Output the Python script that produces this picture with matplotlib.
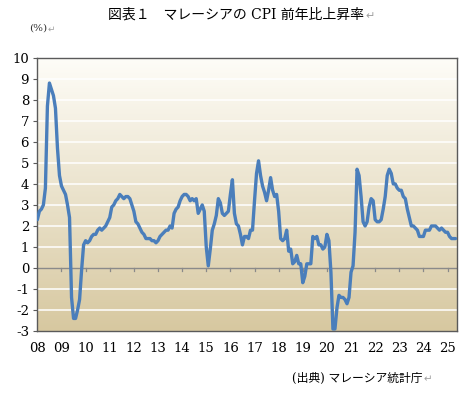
import matplotlib.pyplot as plt
import numpy as np

# Malaysia CPI year-on-year change (%), monthly, Jan 2008 - May 2025
cpi_2008 = [2.3, 2.7, 2.8, 3.0, 3.8, 7.7, 8.8, 8.5, 8.2, 7.6, 5.7, 4.4]
cpi_2009 = [3.9, 3.7, 3.5, 3.0, 2.4, -1.4, -2.4, -2.4, -2.0, -1.5, -0.1, 1.1]
cpi_2010 = [1.3, 1.2, 1.3, 1.5, 1.6, 1.6, 1.8, 1.9, 1.8, 1.9, 2.0, 2.2]
cpi_2011 = [2.4, 2.9, 3.0, 3.2, 3.3, 3.5, 3.4, 3.3, 3.4, 3.4, 3.3, 3.0]
cpi_2012 = [2.7, 2.2, 2.1, 1.9, 1.7, 1.6, 1.4, 1.4, 1.4, 1.3, 1.3, 1.2]
cpi_2013 = [1.3, 1.5, 1.6, 1.7, 1.8, 1.8, 2.0, 1.9, 2.6, 2.8, 2.9, 3.2]
cpi_2014 = [3.4, 3.5, 3.5, 3.4, 3.2, 3.3, 3.2, 3.3, 2.6, 2.8, 3.0, 2.7]
cpi_2015 = [1.0, 0.1, 0.9, 1.8, 2.1, 2.5, 3.3, 3.1, 2.6, 2.5, 2.6, 2.7]
cpi_2016 = [3.5, 4.2, 2.6, 2.1, 2.0, 1.6, 1.1, 1.5, 1.5, 1.4, 1.8, 1.8]
cpi_2017 = [3.2, 4.5, 5.1, 4.4, 3.9, 3.6, 3.2, 3.7, 4.3, 3.7, 3.4, 3.5]
cpi_2018 = [2.7, 1.4, 1.3, 1.4, 1.8, 0.8, 0.9, 0.2, 0.3, 0.6, 0.2, 0.2]
cpi_2019 = [-0.7, -0.4, 0.2, 0.2, 0.2, 1.5, 1.4, 1.5, 1.1, 1.1, 0.9, 1.0]
cpi_2020 = [1.6, 1.3, -0.2, -2.9, -2.9, -1.9, -1.3, -1.4, -1.4, -1.5, -1.7, -1.4]
cpi_2021 = [-0.2, 0.1, 1.7, 4.7, 4.4, 3.4, 2.2, 2.0, 2.2, 2.9, 3.3, 3.2]
cpi_2022 = [2.3, 2.2, 2.2, 2.3, 2.8, 3.4, 4.4, 4.7, 4.5, 4.0, 4.0, 3.8]
cpi_2023 = [3.7, 3.7, 3.4, 3.3, 2.8, 2.4, 2.0, 2.0, 1.9, 1.8, 1.5, 1.5]
cpi_2024 = [1.5, 1.8, 1.8, 1.8, 2.0, 2.0, 2.0, 1.9, 1.8, 1.9, 1.8, 1.7]
cpi_2025 = [1.7, 1.5, 1.4, 1.4, 1.4]

year_labels = ['08', '09', '10', '11', '12', '13', '14', '15', '16',
               '17', '18', '19', '20', '21', '22', '23', '24', '25']
y_ticks = list(range(-3, 11))

cpi = (cpi_2008 + cpi_2009 + cpi_2010 + cpi_2011 + cpi_2012 + cpi_2013
       + cpi_2014 + cpi_2015 + cpi_2016 + cpi_2017 + cpi_2018 + cpi_2019
       + cpi_2020 + cpi_2021 + cpi_2022 + cpi_2023 + cpi_2024 + cpi_2025)
months = np.arange(len(cpi)) / 12.0  # years since Jan 2008

serif_jp = ['DejaVu Serif', 'Noto Sans CJK JP', 'DejaVu Sans']
mark_color = '#a0a0a0'  # the little Word return marks

fig = plt.figure(figsize=(4.67, 3.96), dpi=100)
ax = fig.add_axes([0.080, 0.164, 0.899, 0.690])

x_max = 17.4
ax.set_xlim(0, x_max)
ax.set_ylim(-3, 10)

# beige gradient background (light at top, tan at bottom)
top = np.array([254, 253, 248]) / 255
bottom = np.array([215, 200, 160]) / 255
t = np.linspace(0, 1, 256)[:, None]
grad = (top * (1 - t) + bottom * t).reshape(256, 1, 3)
ax.imshow(grad, extent=[0, x_max, -3, 10], aspect='auto', zorder=0)

# white gridlines
for v in y_ticks:
    if v not in (-3, 0, 10):
        ax.axhline(v, color='white', linewidth=1.1, zorder=1)

# zero axis line with year ticks pointing down
ax.axhline(0, color='#8a8a8a', linewidth=1.0, zorder=2)
for i in range(1, len(year_labels)):
    ax.plot([i, i], [0, -0.14], color='#8a8a8a', linewidth=0.9, zorder=2)

ax.plot(months, cpi, color='#4A7EBB', linewidth=2.4, solid_joinstyle='round',
        solid_capstyle='round', zorder=3)

for s in ax.spines.values():
    s.set_color('#5a5a5a')
    s.set_linewidth(1.0)

ax.set_yticks(y_ticks)
ax.set_yticklabels([str(v) for v in y_ticks], family='DejaVu Serif', fontsize=9.5)
ax.tick_params(axis='y', length=3, color='#5a5a5a', pad=3)

ax.set_xticks(np.arange(len(year_labels)))
ax.set_xticklabels(year_labels, family='DejaVu Serif', fontsize=9.5)
ax.tick_params(axis='x', length=0, pad=8)

title = fig.text(0.232, 0.964, '図表１　マレーシアの CPI 前年比上昇率', family=serif_jp,
                 fontsize=10, ha='left', va='center')
unit = fig.text(0.062, 0.930, '(%)', family=serif_jp, fontsize=7.5, color='#333333',
                ha='left', va='center')
source = fig.text(0.625, 0.045, '(出典) マレーシア統計庁', family=serif_jp, fontsize=8.5,
                  ha='left', va='center')

# put a grey return mark right after each text block
renderer = fig.canvas.get_renderer()
for txt, size in [(title, 8), (unit, 6.5), (source, 7.5)]:
    bb = txt.get_window_extent(renderer=renderer)
    x_end = bb.x1 / fig.bbox.width
    y_mid = txt.get_position()[1]
    fig.text(x_end + 0.002, y_mid - 0.004, '\u21b5', family='DejaVu Sans', fontsize=size,
             color=mark_color, ha='left', va='center')

fig.savefig('out.png', dpi=100)
